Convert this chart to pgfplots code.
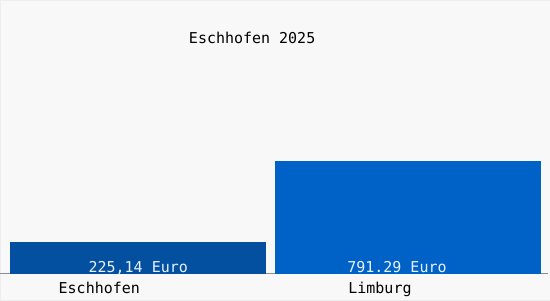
\documentclass[border=0pt]{standalone}
\usepackage{pgfplots}
\pgfplotsset{compat=1.18}
\usepackage{fontspec}
\setmonofont{DejaVu Sans Mono}
\definecolor{bgc}{HTML}{F8F8F8}
\definecolor{barA}{HTML}{02509F}
\definecolor{barB}{HTML}{0062C6}
\definecolor{valtxt}{HTML}{E8F2FF}
\begin{document}
\begin{tikzpicture}
\begin{axis}[
  scale only axis,
  width=550pt, height=300pt,
  xmin=0, xmax=550,
  ymin=-182.1, ymax=1918.7,
  axis background/.style={fill=bgc},
  axis line style={draw=black!7, line width=0.4pt},
  ytick=\empty,
  xtick={99,380},
  xticklabels={Eschhofen,Limburg},
  major tick length=0pt,
  xticklabel style={font=\ttfamily\fontsize{15}{15}\selectfont, anchor=base, yshift=6pt, text=black},
  title={Eschhofen 2025},
  title style={at={(0.4582,0.853)}, anchor=center, font=\ttfamily\fontsize{15}{15}\selectfont},
  clip=false,
]
\addplot[draw=black!45, line width=0.8pt, mark=none] coordinates {(0,0) (548,0)};
\addplot[ybar, bar width=256, bar shift=0pt, fill=barA, draw=none] coordinates {(138,225.14)};
\addplot[ybar, bar width=266, bar shift=0pt, fill=barB, draw=none] coordinates {(408,791.29)};
\addplot[draw=none, mark=none, nodes near coords, point meta=explicit symbolic,
  every node near coord/.append style={anchor=base, yshift=1pt, text=valtxt, font=\ttfamily\fontsize{15}{15}\selectfont}]
  coordinates {(138,0) [{225,14 Euro}] (397,0) [{791.29 Euro}]};
\end{axis}
\end{tikzpicture}
\end{document}
